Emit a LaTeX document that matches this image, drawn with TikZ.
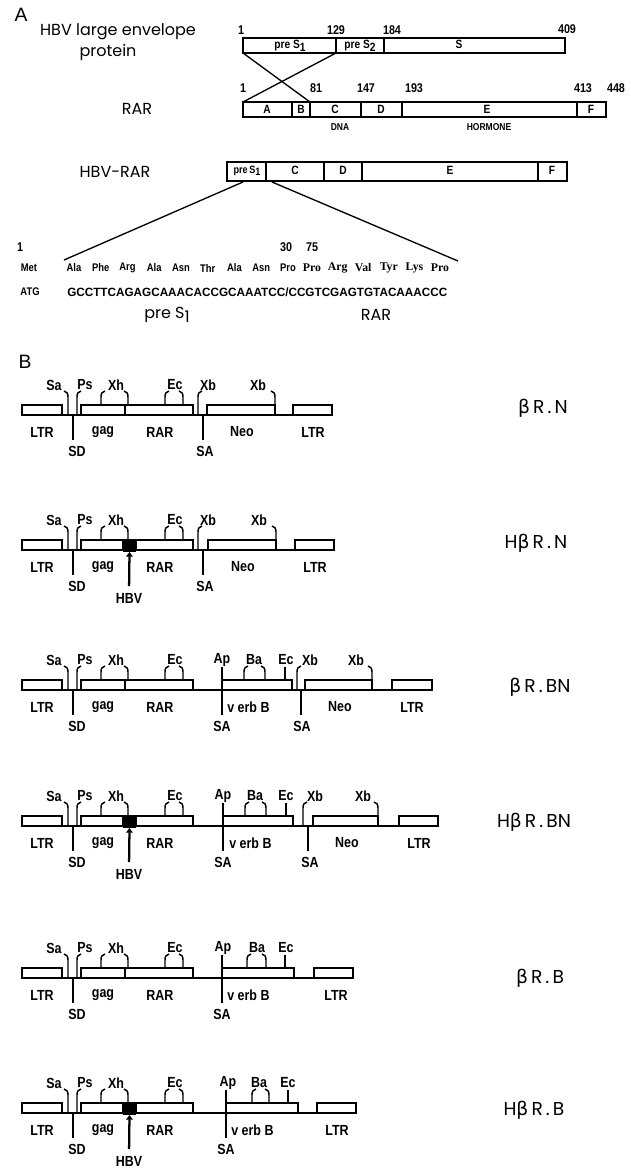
\documentclass[tikz,border=0pt]{standalone}
\usepackage{fontspec}
\setmainfont{Liberation Sans}
\newfontfamily\geo{Poppins}
\newfontfamily\grk{DejaVu Sans}
\newfontfamily\cnd{Liberation Sans}[FakeStretch=0.85]
\newfontfamily\srf{Liberation Serif}
\usetikzlibrary{arrows.meta}

\newcommand\bet{{\grk β}}
\newcommand\subone{\raisebox{-0.45ex}{1}}
\newcommand\subtwo{\raisebox{-0.45ex}{2}}

\tikzset{
  bx/.style={draw, line width=1.3pt, fill=white},
  bb/.style={line width=1.9pt},
  leg/.style={line width=1.1pt},
  ln/.style={line width=1pt},
  site/.style={font=\cnd\bfseries\fontsize{11}{12}\selectfont, inner sep=0pt},
  num/.style={font=\cnd\bfseries\fontsize{9.5}{10}\selectfont, inner sep=0pt},
  seg/.style={font=\cnd\bfseries\fontsize{9}{10}\selectfont, inner sep=0pt},
  small/.style={font=\cnd\bfseries\fontsize{7.5}{8}\selectfont, inner sep=0pt},
  aa/.style={font=\cnd\bfseries\fontsize{8.3}{9}\selectfont, inner sep=0pt},
  aar/.style={font=\srf\bfseries\fontsize{8.8}{9}\selectfont, inner sep=0pt},
  big/.style={font=\geo\fontsize{12}{14}\selectfont, inner sep=0pt},
  cname/.style={font=\geo\fontsize{14}{15}\selectfont, inner sep=0pt},
  hdr/.style={font=\fontsize{14.5}{15}\selectfont, inner sep=0pt},
}

% restriction site leg with a small hook at its top (#3 > 0: hook to the right)
\newcommand\hookleg[3]{\draw[leg] (#1,#2) -- (#1,-8) .. controls (#1,-11.5) and ({#1+0.3*(#3)},-13.5) .. ({#1+(#3)},-14);}
\newcommand\stemleg[1]{\draw[leg] (#1,0) -- (#1,-13);}

% common 5' part of every retroviral construct; #2=1 adds the HBV insert
\newcommand\leftpart[2]{%
  \draw[bx] (22,0) rectangle (62,10);
  \hookleg{68}{10}{-4}
  \hookleg{77}{10}{4}
  \draw[leg] (73,10) -- (73,35);
  \ifnum#2=1
    \draw[bx] (81,0) rectangle (123,10);
    \draw[bx] (136,0) rectangle (193,10);
    \fill (123,-1) rectangle (136,12);
    \coordinate (#1-ins) at (129.5,12);
    \node[site] (#1-hbv) at (129,58) {HBV};
    \draw[line width=1.7pt, -{Triangle[length=3.5pt,width=5pt]}, shorten <=5pt] (#1-hbv.north) -- (#1-ins);
  \else
    \draw[bx] (81,0) rectangle (125,10);
    \draw[bx] (125,0) rectangle (193,10);
  \fi
  \hookleg{101}{0}{4}
  \hookleg{128}{0}{-4}
  \hookleg{165}{0}{4}
  \hookleg{183}{0}{-4}
  \node[site] (#1-sal) at (54,-20) {Sa};
  \node[site] (#1-ps) at (85,-20) {Ps};
  \node[site] (#1-xh) at (116,-20) {Xh};
  \node[site] (#1-ec) at (175,-20) {Ec};
  \node[site] (#1-ltr) at (42,27) {LTR};
  \node[site] (#1-gag) at (103,27) {gag};
  \node[site] (#1-rar) at (160,27) {RAR};
  \node[site] (#1-sd) at (77,46) {SD};
}

\begin{document}
\begin{tikzpicture}[x=0.75pt,y=-0.75pt]
\useasboundingbox (0,0) rectangle (631,1168);

% ---------------- panel A ----------------
\node[hdr] (secA) at (21,15) {A};
\node[big] (hbv1) at (118,32) {HBV large envelope};
\node[big] (hbv2) at (108,52) {protein};

% HBV large envelope protein
\draw[bx] (243,38) rectangle (565,53);
\draw[bx] (336,38) -- (336,53);
\draw[bx] (384,38) -- (384,53);
\node[seg] (hps1) at (290,46) {pre S\subone};
\node[seg] (hps2) at (360,46) {pre S\subtwo};
\node[seg] (hs) at (459,44) {S};
\node[num] (hn1) at (241,30) {1};
\node[num] (hn129) at (336,30) {129};
\node[num] (hn184) at (392,30) {184};
\node[num] (hn409) at (567,29) {409};

% RAR
\node[big] (rarlab) at (137,109) {RAR};
\draw[bx] (243,102) rectangle (606,117);
\foreach \x in {292,310,361,402,577} \draw[bx] (\x,102) -- (\x,117);
\node[seg] (ra) at (267,109) {A};
\node[seg] (rb) at (301,109) {B};
\node[seg] (rc) at (335,109) {C};
\node[seg] (rd) at (381,109) {D};
\node[seg] (re) at (487,109) {E};
\node[seg] (rf) at (591,109) {F};
\node[num] (rn1) at (243,88) {1};
\node[num] (rn81) at (316,88) {81};
\node[num] (rn147) at (366,88) {147};
\node[num] (rn193) at (414,88) {193};
\node[num] (rn413) at (583,88) {413};
\node[num] (rn448) at (616,88) {448};
\node[small] (dna) at (340,127) {DNA};
\node[small] (horm) at (489,127) {HORMONE};

% exchange of the N-terminal region
\coordinate (h1) at (243,53);
\coordinate (h129) at (336,53);
\coordinate (r1) at (243,102);
\coordinate (r81) at (310,102);
\draw[ln] (h1) -- (r81);
\draw[ln] (h129) -- (r1);

% HBV-RAR chimera
\node[big] (chlab) at (115,172) {HBV-RAR};
\draw[bx] (227,162) rectangle (567,181);
\foreach \x in {266,324,362,538} \draw[bx] (\x,162) -- (\x,181);
\node[seg, font=\cnd\bfseries\fontsize{8}{9}\selectfont] (cps) at (247,171) {pre\,S\subone};
\node[seg] (cc) at (295,170) {C};
\node[seg] (cd) at (343,170) {D};
\node[seg] (ce) at (450,170) {E};
\node[seg] (cf) at (552,170) {F};

% junction sequence
\coordinate (e1) at (243,182);
\coordinate (e2) at (272,182);
\coordinate (e3) at (64,260);
\coordinate (e4) at (458,261);
\draw[ln] (e1) -- (e3);
\draw[ln] (e2) -- (e4);

\node[num] (s1) at (20,247) {1};
\node[num] (s30) at (286,247) {30};
\node[num] (s75) at (312,247) {75};
\node[aa] (met) at (29,268) {Met};
\foreach \w [count=\i] in {Ala,Phe,Arg,Ala,Asn,Thr,Ala,Asn,Pro}
  \node[aa] (p\i) at ({74+26.75*(\i-1)},268) {\w};
\foreach \w [count=\i] in {Pro,Arg,Val,Tyr,Lys,Pro}
  \node[aar] (q\i) at ({312+25.6*(\i-1)},268) {\w};
\node[aa] (atg) at (30,292) {ATG};
\node[aa, anchor=west] (seq) at (67,292) {\resizebox{285pt}{6.5pt}{GCCTTCAGAGCAAACACCGCAAATCC/CCGTCGAGTGTACAAACCC}};
\node[big] (sps1) at (167,315) {pre S\subone};
\node[big] (srar) at (376,315) {RAR};

% ---------------- panel B ----------------
\node[hdr] (secB) at (25,362) {B};

% bR.N
\begin{scope}[shift={(0,405)}]
  \draw[bb] (22,10) -- (332,10);
  \leftpart{c1}{0}
  \hookleg{198}{10}{4}
  \draw[leg] (203,10) -- (203,35);
  \draw[bx] (207,0) rectangle (275,10);
  \hookleg{275}{0}{-4}
  \draw[bx] (293,0) rectangle (332,10);
  \node[site] (c1-xb1) at (208,-20) {Xb};
  \node[site] (c1-xb2) at (258,-20) {Xb};
  \node[site] (c1-neo) at (242,27) {Neo};
  \node[site] (c1-ltr2) at (313,27) {LTR};
  \node[site] (c1-acc) at (205,46) {SA};
  \node[cname] (c1-name) at (543,3) {\bet\,R\,.\,N};
\end{scope}

% HbR.N
\begin{scope}[shift={(0,540)}]
  \draw[bb] (22,10) -- (334,10);
  \leftpart{c2}{1}
  \hookleg{198}{10}{4}
  \draw[leg] (203,10) -- (203,35);
  \draw[bx] (208,0) rectangle (276,10);
  \hookleg{276}{0}{-4}
  \draw[bx] (295,0) rectangle (334,10);
  \node[site] (c2-xb1) at (208,-20) {Xb};
  \node[site] (c2-xb2) at (259,-20) {Xb};
  \node[site] (c2-neo) at (243,27) {Neo};
  \node[site] (c2-ltr2) at (315,27) {LTR};
  \node[site] (c2-acc) at (205,46) {SA};
  \node[cname] (c2-name) at (536,3) {H\bet\,R\,.\,N};
\end{scope}

% bR.BN
\begin{scope}[shift={(0,680)}]
  \draw[bb] (22,10) -- (432,10);
  \leftpart{c3}{0}
  \draw[leg] (222,-13) -- (222,35);
  \draw[bx] (222,0) rectangle (292,10);
  \hookleg{244}{0}{4}
  \hookleg{265}{0}{-4}
  \stemleg{285}
  \hookleg{297}{10}{4}
  \draw[leg] (301,10) -- (301,35);
  \draw[bx] (305,0) rectangle (372,10);
  \hookleg{372}{0}{-4}
  \draw[bx] (392,0) rectangle (432,10);
  \node[site] (c3-ap) at (222,-20) {Ap};
  \node[site] (c3-ba) at (254,-20) {Ba};
  \node[site] (c3-ec2) at (286,-20) {Ec};
  \node[site] (c3-xb1) at (310,-20) {Xb};
  \node[site] (c3-xb2) at (356,-20) {Xb};
  \node[site, anchor=west] (c3-erb) at (227,27) {v erb B};
  \node[site] (c3-neo) at (340,27) {Neo};
  \node[site] (c3-ltr2) at (412,27) {LTR};
  \node[site] (c3-acc1) at (222,46) {SA};
  \node[site] (c3-acc2) at (302,46) {SA};
  \node[cname] (c3-name) at (540,7) {\bet\,R\,.\,BN};
\end{scope}

% HbR.BN
\begin{scope}[shift={(0,816)}]
  \draw[bb] (22,10) -- (438,10);
  \leftpart{c4}{1}
  \draw[leg] (223,-13) -- (223,35);
  \draw[bx] (223,0) rectangle (293,10);
  \hookleg{245}{0}{4}
  \hookleg{266}{0}{-4}
  \stemleg{286}
  \hookleg{303}{10}{4}
  \draw[leg] (308,10) -- (308,35);
  \draw[bx] (313,0) rectangle (378,10);
  \hookleg{378}{0}{-4}
  \draw[bx] (399,0) rectangle (438,10);
  \node[site] (c4-ap) at (223,-20) {Ap};
  \node[site] (c4-ba) at (255,-20) {Ba};
  \node[site] (c4-ec2) at (286,-20) {Ec};
  \node[site] (c4-xb1) at (315,-20) {Xb};
  \node[site] (c4-xb2) at (363,-20) {Xb};
  \node[site, anchor=west] (c4-erb) at (229,27) {v erb B};
  \node[site] (c4-neo) at (347,27) {Neo};
  \node[site] (c4-ltr2) at (419,27) {LTR};
  \node[site] (c4-acc1) at (223,46) {SA};
  \node[site] (c4-acc2) at (310,46) {SA};
  \node[cname] (c4-name) at (534,6) {H\bet\,R\,.\,BN};
\end{scope}

% bR.B
\begin{scope}[shift={(0,968)}]
  \draw[bb] (22,10) -- (353,10);
  \leftpart{c5}{0}
  \draw[leg] (222,-13) -- (222,35);
  \draw[bx] (222,0) rectangle (294,10);
  \hookleg{247}{0}{4}
  \hookleg{266}{0}{-4}
  \stemleg{285}
  \draw[bx] (314,0) rectangle (353,10);
  \node[site] (c5-ap) at (223,-20) {Ap};
  \node[site] (c5-ba) at (257,-20) {Ba};
  \node[site] (c5-ec2) at (286,-20) {Ec};
  \node[site, anchor=west] (c5-erb) at (227,27) {v erb B};
  \node[site] (c5-ltr2) at (336,27) {LTR};
  \node[site] (c5-acc1) at (222,46) {SA};
  \node[cname] (c5-name) at (540,10) {\bet\,R\,.\,B};
\end{scope}

% HbR.B
\begin{scope}[shift={(0,1103)}]
  \draw[bb] (22,10) -- (356,10);
  \leftpart{c6}{1}
  \draw[leg] (226,-13) -- (226,35);
  \draw[bx] (226,0) rectangle (298,10);
  \hookleg{252}{0}{4}
  \hookleg{269}{0}{-4}
  \stemleg{288}
  \draw[bx] (317,0) rectangle (356,10);
  \node[site] (c6-ap) at (228,-20) {Ap};
  \node[site] (c6-ba) at (259,-20) {Ba};
  \node[site] (c6-ec2) at (288,-20) {Ec};
  \node[site, anchor=west] (c6-erb) at (231,27) {v erb B};
  \node[site] (c6-ltr2) at (337,27) {LTR};
  \node[site] (c6-acc1) at (226,46) {SA};
  \node[cname] (c6-name) at (534,7) {H\bet\,R\,.\,B};
\end{scope}

\end{tikzpicture}
\end{document}
